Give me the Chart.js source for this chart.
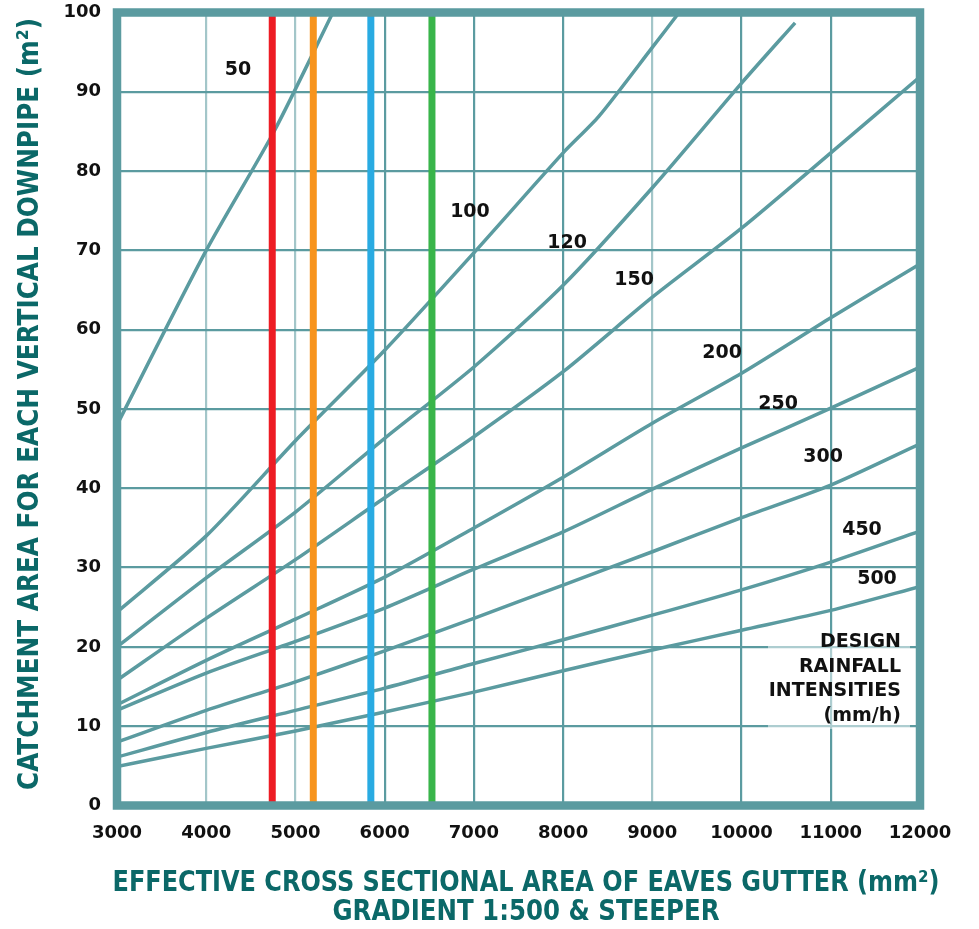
<!DOCTYPE html>
<html>
<head>
<meta charset="utf-8">
<script src="https://cdn.jsdelivr.net/npm/chart.js@4.4.0/dist/chart.umd.min.js"></script>
<style>html,body{margin:0;padding:0;background:#fff}canvas{display:block}</style>
</head>
<body>
<canvas id="myChart" width="979" height="929"></canvas>
<script>
  // x values (mm2) and catchment areas (m2), one array per rainfall intensity
  const gutterArea = [3000, 4000, 5000, 6000, 7000, 8000, 9000, 10000, 11000, 12000];

  const x50  = [3000, 4000, 4760, 5420];
  const i50  = [48, 70, 85, 100];

  const x100 = [3000, 4000, 5000, 6000, 7000, 8000, 8400, 9000, 9300];
  const i100 = [24.4, 34, 46, 57.4, 69.7, 82.3, 86.9, 95.6, 100];

  const x120 = [3000, 4000, 5000, 6000, 7000, 8000, 9000, 10000, 10600];
  const i120 = [20, 28.7, 37, 46.3, 55.3, 65.6, 77.9, 91.1, 98.7];

  const i150 = [15.8, 23.6, 31, 38.8, 46.5, 54.7, 64.1, 72.8, 82.3, 91.9];
  const i200 = [12.7, 18.3, 23.5, 28.8, 35.0, 41.4, 48.2, 54.5, 61.5, 68.3];
  const i250 = [12, 16.7, 20.7, 24.9, 29.8, 34.5, 39.9, 45.1, 50.1, 55.3];
  const i300 = [8, 12, 15.6, 19.5, 23.6, 27.8, 32.0, 36.3, 40.4, 45.6];
  const i450 = [6.1, 9.2, 12.0, 14.8, 17.9, 20.9, 24.0, 27.2, 30.7, 34.6];
  const i500 = [4.9, 7.2, 9.4, 11.8, 14.3, 17.0, 19.6, 22.1, 24.6, 27.6];

  // downpipe sizes shown as coloured verticals
  const downpipeX = [4740, 5200, 5845, 6530];
  const downpipeColors = ['#ed1c24', '#f7941d', '#29abe2', '#39b54a'];

  // curve labels and where they sit (data units)
  const curveLabels = ['50', '100', '120', '150', '200', '250', '300', '450', '500'];
  const labelX = [4356, 6956, 8044, 8795, 9781, 10409, 10913, 11350, 11518];
  const labelY = [92.7, 74.8, 70.9, 66.3, 57.0, 50.6, 43.9, 34.7, 28.6];

  const legendLines = ['DESIGN', 'RAINFALL', 'INTENSITIES', '(mm/h)'];

  const xTickValues = [3000, 4000, 5000, 6000, 7000, 8000, 9000, 10000, 11000, 12000];
  const yTickValues = [0, 10, 20, 30, 40, 50, 60, 70, 80, 90, 100];
  const lightGridX = [4000, 5000, 9000];

  const teal = '#5b9ba0';
  const titleColor = '#0b6868';

  let pts = (xs, ys) => xs.map((x, i) => ({x: x, y: ys[i]}));

  let curve = (xs, ys) => ({
    data: pts(xs, ys),
    borderColor: teal,
    borderWidth: 3.5,
    pointRadius: 0,
    tension: 0.25,
    showLine: true,
    order: 2
  });

  let datasets = [];
  downpipeX.forEach((x, i) => {
    datasets.push({
      data: [{x: x, y: 0}, {x: x, y: 100}],
      borderColor: downpipeColors[i],
      borderWidth: 7,
      pointRadius: 0,
      showLine: true,
      order: 1
    });
  });
  datasets.push(curve(x50, i50));
  datasets.push(curve(x100, i100));
  datasets.push(curve(x120, i120));
  [i150, i200, i250, i300, i450, i500].forEach(s => datasets.push(curve(gutterArea, s)));

  let fitText = (ctx, text, cx, cy, width, rot) => {
    ctx.save();
    ctx.translate(cx, cy);
    ctx.rotate(rot);
    let w = ctx.measureText(text).width;
    ctx.scale(width / w, 1);
    ctx.fillText(text, 0, 0);
    ctx.restore();
  };

  const overlay = {
    id: 'overlay',
    afterDatasetsDraw(chart) {
      const {ctx, chartArea: a, scales: {x, y}} = chart;
      ctx.save();
      ctx.strokeStyle = teal;
      ctx.lineWidth = 8.5;
      ctx.strokeRect(a.left, a.top, a.right - a.left, a.bottom - a.top);

      ctx.fillStyle = '#111';
      ctx.font = 'bold 19px "DejaVu Sans"';
      ctx.textAlign = 'center';
      ctx.textBaseline = 'middle';
      curveLabels.forEach((t, i) => {
        ctx.fillText(t, x.getPixelForValue(labelX[i]), y.getPixelForValue(labelY[i]));
      });

      // legend block, white wash behind it
      ctx.fillStyle = 'rgba(255,255,255,0.5)';
      ctx.fillRect(768, 645, 142, 84);
      ctx.fillStyle = '#111';
      ctx.textAlign = 'right';
      legendLines.forEach((t, i) => ctx.fillText(t, 901, 642 + i * 24.7));

      // axis titles
      ctx.fillStyle = titleColor;
      ctx.font = 'bold 29px "DejaVu Sans"';
      ctx.textAlign = 'center';
      fitText(ctx, 'CATCHMENT AREA FOR EACH VERTICAL DOWNPIPE (m²)', 30, 404, 772, -Math.PI / 2);
      ctx.font = 'bold 28px "DejaVu Sans"';
      fitText(ctx, 'EFFECTIVE CROSS SECTIONAL AREA OF EAVES GUTTER (mm²)', 526, 884, 827, 0);
      fitText(ctx, 'GRADIENT 1:500 & STEEPER', 526, 913, 387, 0);
      ctx.restore();
    }
  };

  var ctx = document.getElementById('myChart').getContext('2d');
  var myChart = new Chart(ctx, {
    type: 'scatter',
    data: { datasets: datasets },
    options: {
      responsive: false,
      animation: false,
      layout: { padding: { left: 0, top: 12.5, right: 59, bottom: 0 } },
      plugins: { legend: { display: false }, tooltip: { enabled: false } },
      scales: {
        x: {
          type: 'linear',
          min: 3000,
          max: 12000,
          afterBuildTicks: s => { s.ticks = xTickValues.map(v => ({value: v})); },
          afterFit: s => { s.height = 123.5; s.paddingLeft = 0; s.paddingRight = 0; },
          border: { display: false },
          grid: {
            drawTicks: false,
            lineWidth: 2.2,
            color: c => lightGridX.includes(c.tick && c.tick.value) ? '#a3c6c9' : teal
          },
          ticks: {
            padding: 17,
            color: '#111',
            font: { family: 'DejaVu Sans', weight: 'bold', size: 18 },
            callback: v => String(v)
          }
        },
        y: {
          min: 0,
          max: 100,
          afterBuildTicks: s => { s.ticks = yTickValues.map(v => ({value: v})); },
          afterFit: s => { s.width = 117; s.paddingTop = 0; s.paddingBottom = 0; },
          border: { display: false },
          grid: { drawTicks: false, lineWidth: 2.2, color: teal },
          ticks: {
            padding: 16,
            color: '#111',
            font: { family: 'DejaVu Sans', weight: 'bold', size: 18 }
          }
        }
      }
    },
    plugins: [overlay]
  });
</script>
</body>
</html>
